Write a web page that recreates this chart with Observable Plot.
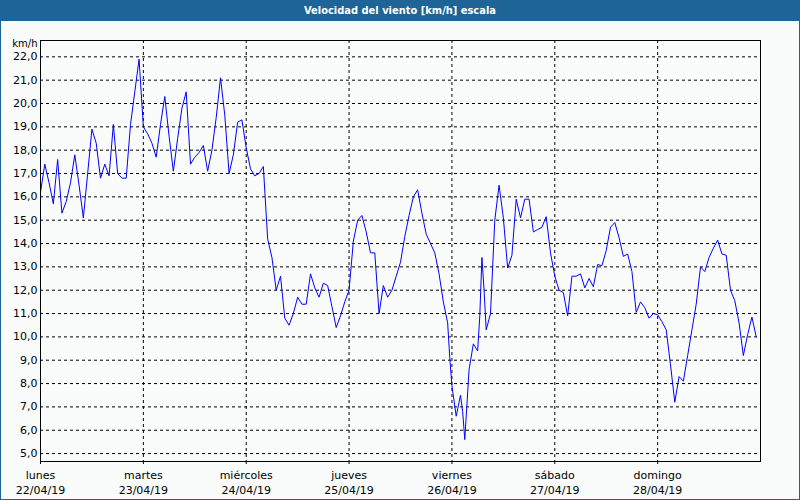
<!DOCTYPE html>
<html>
<head>
<meta charset="utf-8">
<script src="https://cdn.jsdelivr.net/npm/d3@7"></script>
<script src="https://cdn.jsdelivr.net/npm/@observablehq/plot@0.6"></script>
<style>
  html, body { margin: 0; padding: 0; background: #f9fcfb; }
  #wrap { position: relative; width: 800px; height: 500px; background: #f9fcfb; overflow: hidden; }
  #title { position: absolute; left: 0; top: 0; width: 800px; height: 21px; background: #1e6496;
    color: #fff; font: bold 11px "DejaVu Sans Condensed", "DejaVu Sans", sans-serif;
    text-align: center; line-height: 21px; }
  #chart { position: absolute; left: 0; top: 21px; }
  #border { position: absolute; left: 0; top: 0; width: 800px; height: 500px; box-sizing: border-box;
    border: 1px solid #1e6496; border-top: none; pointer-events: none; }
</style>
</head>
<body>
<div id="wrap">
  <div id="title">Velocidad del viento [km/h] escala</div>
  <div id="chart"></div>
  <div id="border"></div>
</div>
<script>
// Hourly wind speed, km/h (hour offset from 22/04/19 00:00)
const hours = [
  0,1,2,3,4,5,6,7,8,9,10,11,12,13,14,15,16,17,18,19,20,21,22,23,
  24,25,26,27,28,29,30,31,32,33,34,35,36,37,38,39,40,41,42,43,44,45,46,47,
  48,49,50,51,52,53,54,55,56,57,58,59,60,61,62,63,64,65,66,67,68,69,70,71,
  72,73,74,75,76,77,78,79,80,81,82,83,84,85,86,87,88,89,90,91,92,93,94,95,95.5,
  96,97,98,98.5,99,100,101,102,102.5,103,103.5,104,105,106,107,108,109,110,111,112,113,114,115,116,117,118,119,
  120,121,122,123,124,125,126,127,128,129,130,131,132,133,134,135,136,137,138,139,140,141,142,143,
  144,145,146,147,148,149,150,151,152,153,154,155,156,157,158,159,160,161,162,163,164,165,166,167
];
const speeds = [
  16.2,17.4,16.6,15.7,17.6,15.3,15.8,16.6,17.8,16.5,15.1,17.0,18.9,18.3,16.8,17.4,16.9,19.1,17.0,16.8,16.8,19.1,20.5,21.9,
  19.0,18.7,18.3,17.7,19.1,20.3,18.6,17.1,18.5,19.8,20.5,17.4,17.7,17.9,18.2,17.1,18.0,19.4,21.1,19.5,17.0,17.8,19.2,19.3,
  18.1,17.2,16.9,17.0,17.3,14.2,13.4,12.0,12.6,10.8,10.5,11.0,11.7,11.4,11.4,12.7,12.1,11.7,12.3,12.2,11.3,10.4,10.9,11.5,
  12.0,14.1,15.0,15.2,14.5,13.6,13.6,11.0,12.2,11.7,12.0,12.6,13.2,14.3,15.2,16.0,16.3,15.3,14.4,14.0,13.6,12.7,11.5,10.6,9.1,
  7.9,6.6,7.5,6.8,5.6,8.6,9.7,9.4,10.9,13.4,12.0,10.3,11.0,15.0,16.5,15.1,12.95,13.5,15.9,15.1,15.9,15.9,14.5,14.6,14.7,15.15,13.6,
  12.6,12.0,11.9,10.9,12.6,12.6,12.7,12.1,12.5,12.15,13.1,13.05,13.7,14.7,14.9,14.25,13.45,13.55,12.8,11.05,11.5,11.25,10.8,11.0,
  10.95,10.65,10.3,8.8,7.2,8.3,8.1,9.2,10.3,11.4,13.0,12.8,13.4,13.8,14.15,13.55,13.5,12.0,11.55,10.6,9.2,10.1,10.85,10.0
];
const dayNames = ["lunes","martes","miércoles","jueves","viernes","sábado","domingo"];
const dayDates = ["22/04/19","23/04/19","24/04/19","25/04/19","26/04/19","27/04/19","28/04/19"];
const yTicks = [5,6,7,8,9,10,11,12,13,14,15,16,17,18,19,20,21,22];

const start = Date.UTC(2019, 3, 22);
const data = hours.map((h, i) => ({t: new Date(start + h * 3600e3), v: speeds[i]}));
const dayTicks = dayDates.map((_, i) => new Date(start + i * 864e5));
const end = new Date(start + 7 * 864e5);

const chart = Plot.plot({
  width: 800,
  height: 479,
  marginTop: 19,
  marginBottom: 39,
  marginLeft: 40,
  marginRight: 40,
  style: {fontFamily: "DejaVu Sans", fontSize: "11px", background: "#f9fcfb", color: "black"},
  x: {type: "utc", domain: [new Date(start), end]},
  y: {domain: [4.66, 22.7]},
  marks: [
    Plot.gridY(yTicks, {stroke: "black", strokeOpacity: 1, strokeDasharray: "3,3"}),
    Plot.gridX(dayTicks.slice(1), {stroke: "black", strokeOpacity: 1, strokeDasharray: "3,3"}),
    Plot.axisY(yTicks, {tickSize: 0, tickPadding: 3, label: null,
      tickFormat: d => d.toFixed(1).replace(".", ","), fontSize: 11}),
    Plot.axisX(dayTicks, {tickSize: 3, tickPadding: 4, label: null, lineHeight: 1.35, fontSize: 11,
      tickFormat: d => { const i = Math.round((d - start) / 864e5); return dayNames[i] + "\n" + dayDates[i]; }}),
    Plot.text(["km/h"], {frameAnchor: "top-left", dx: -3, dy: 3, textAnchor: "end", lineAnchor: "middle", fontSize: 10}),
    Plot.line(data, {x: "t", y: "v", stroke: "#0000ff", strokeWidth: 1}),
    Plot.frame({stroke: "black", strokeWidth: 1})
  ]
});
document.getElementById("chart").appendChild(chart);
</script>
</body>
</html>
